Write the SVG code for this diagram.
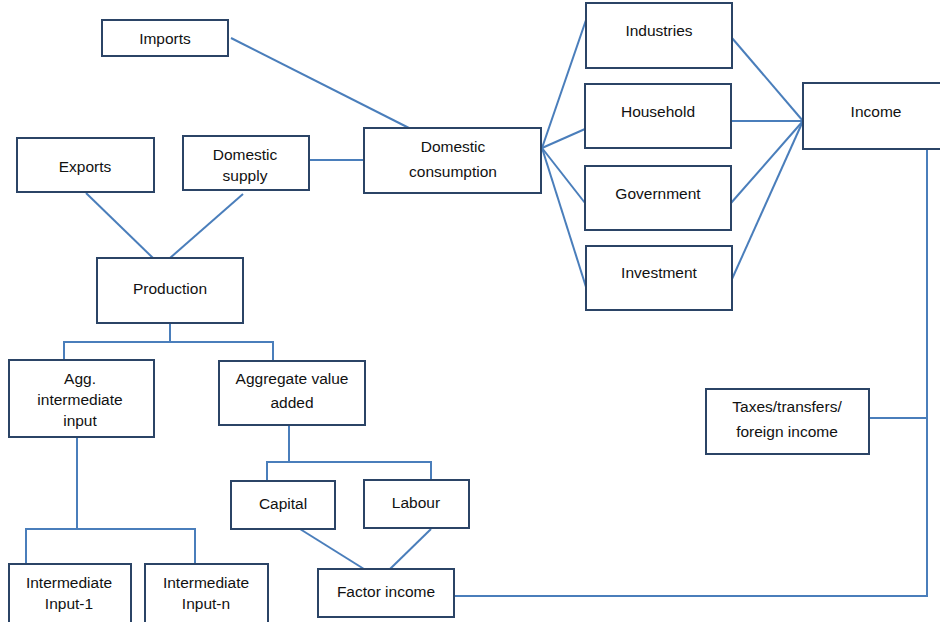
<svg xmlns="http://www.w3.org/2000/svg" width="940" height="622" viewBox="0 0 940 622">
<style>
.box{fill:#fff;stroke:#2b4466;stroke-width:2}
.c{fill:none;stroke:#4a7ebb;stroke-width:2}
text{font-family:"Liberation Sans",Arial,sans-serif;font-size:15.5px;fill:#111;text-anchor:middle}
</style>
<rect width="940" height="622" fill="#fff"/>
<g id="connectors">
<line class="c" x1="231" y1="38" x2="409" y2="128"/>
<line class="c" x1="309" y1="160" x2="364" y2="160"/>
<line class="c" x1="86" y1="193" x2="153" y2="258"/>
<line class="c" x1="243" y1="194" x2="170" y2="258"/>
<polyline class="c" points="170,323 170,342 64,342 64,360"/>
<polyline class="c" points="170,342 273,342 273,360"/>
<polyline class="c" points="289,425 289,462 267,462 267,481"/>
<polyline class="c" points="289,462 431,462 431,480"/>
<polyline class="c" points="77,437 77,529 26,529 26,564"/>
<polyline class="c" points="77,529 195,529 195,569"/>
<line class="c" x1="300" y1="529" x2="364" y2="569"/>
<line class="c" x1="431" y1="529" x2="390" y2="569"/>
<polyline class="c" points="454,596 927,596 927,148"/>
<line class="c" x1="869" y1="418" x2="927" y2="418"/>
<line class="c" x1="542" y1="148" x2="586" y2="20"/>
<line class="c" x1="542" y1="148" x2="585" y2="129"/>
<line class="c" x1="542" y1="148" x2="585" y2="203"/>
<line class="c" x1="542" y1="148" x2="586" y2="287"/>
<line class="c" x1="732" y1="38" x2="803" y2="121"/>
<line class="c" x1="731" y1="121" x2="803" y2="121"/>
<line class="c" x1="731" y1="203" x2="803" y2="121"/>
<line class="c" x1="732" y1="279" x2="803" y2="121"/>
</g>
<g id="imports"><rect class="box" x="102" y="20" width="126" height="36"/><text x="165" y="44">Imports</text></g>
<g id="exports"><rect class="box" x="17" y="138" width="137" height="54"/><text x="85" y="172">Exports</text></g>
<g id="domestic-supply"><rect class="box" x="183" y="136" width="126" height="54"/><text x="245" y="160">Domestic</text><text x="245" y="181">supply</text></g>
<g id="domestic-consumption"><rect class="box" x="364" y="128" width="177" height="65"/><text x="453" y="152">Domestic</text><text x="453" y="177">consumption</text></g>
<g id="production"><rect class="box" x="97" y="258" width="146" height="65"/><text x="170" y="294">Production</text></g>
<g id="industries"><rect class="box" x="586" y="3" width="146" height="65"/><text x="659" y="36">Industries</text></g>
<g id="household"><rect class="box" x="585" y="84" width="146" height="64"/><text x="658" y="117">Household</text></g>
<g id="government"><rect class="box" x="585" y="166" width="146" height="64"/><text x="658" y="199">Government</text></g>
<g id="investment"><rect class="box" x="586" y="246" width="146" height="64"/><text x="659" y="278">Investment</text></g>
<g id="income"><rect class="box" x="803" y="83" width="150" height="66"/><text x="876" y="117">Income</text></g>
<g id="agg-intermediate-input"><rect class="box" x="9" y="360" width="145" height="77"/><text x="80" y="384">Agg.</text><text x="80" y="405">intermediate</text><text x="80" y="426">input</text></g>
<g id="aggregate-value-added"><rect class="box" x="219" y="361" width="146" height="64"/><text x="292" y="384">Aggregate value</text><text x="292" y="408">added</text></g>
<g id="capital"><rect class="box" x="231" y="481" width="104" height="48"/><text x="283" y="509">Capital</text></g>
<g id="labour"><rect class="box" x="364" y="480" width="105" height="48"/><text x="416" y="508">Labour</text></g>
<g id="factor-income"><rect class="box" x="318" y="569" width="136" height="48"/><text x="386" y="597">Factor income</text></g>
<g id="taxes"><rect class="box" x="706" y="389" width="163" height="65"/><text x="787" y="412">Taxes/transfers/</text><text x="787" y="437">foreign income</text></g>
<g id="intermediate-input-1"><rect class="box" x="9" y="564" width="122" height="70"/><text x="69" y="588">Intermediate</text><text x="69" y="609">Input-1</text></g>
<g id="intermediate-input-n"><rect class="box" x="145" y="564" width="123" height="70"/><text x="206" y="588">Intermediate</text><text x="206" y="609">Input-n</text></g>
</svg>
